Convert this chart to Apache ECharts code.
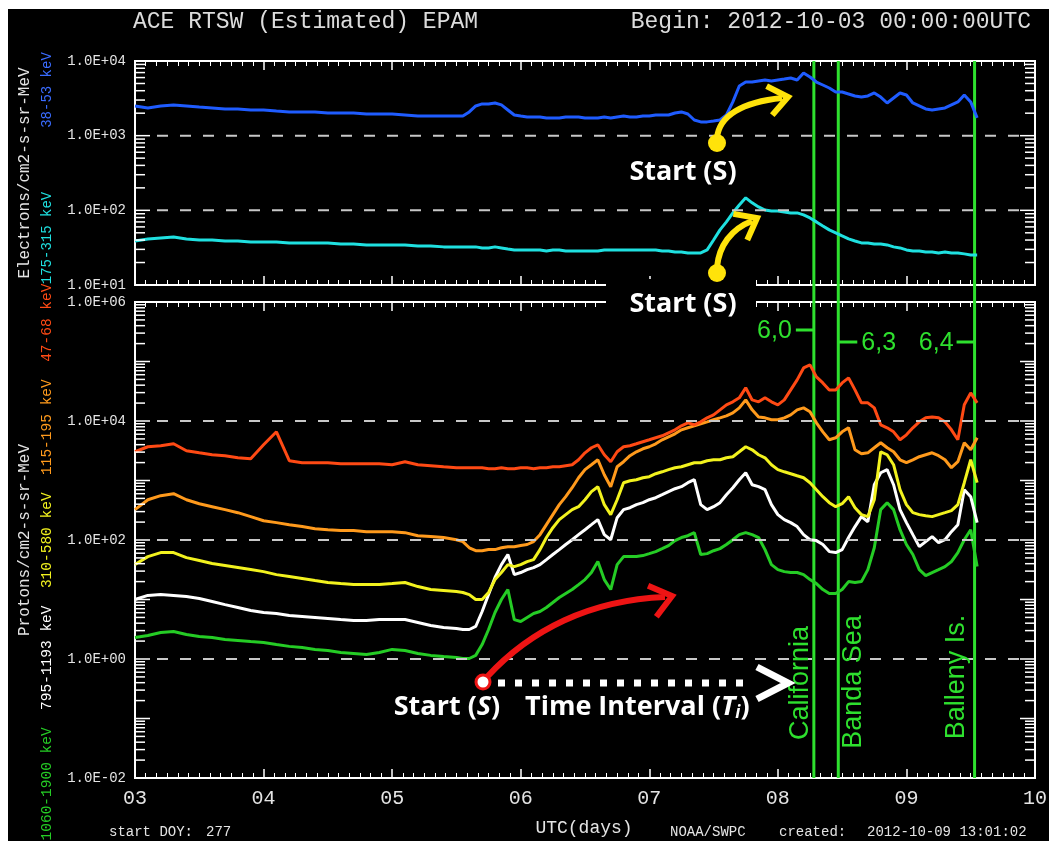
<!DOCTYPE html>
<html><head><meta charset="utf-8">
<script src="https://cdn.jsdelivr.net/npm/echarts@6/dist/echarts.min.js"></script>
<style>
html,body{margin:0;padding:0;background:#fff;width:1049px;height:841px;overflow:hidden}
#bg{position:absolute;left:8px;top:9px;width:1041px;height:832px;background:#000}
#c{position:absolute;left:0;top:0;width:1049px;height:841px}
</style></head><body><div id="bg"></div><div id="c"></div>
<script>
// ---- data (UTC day of October 2012) ----
const days = [3.0,3.1,3.2,3.3,3.4,3.5,3.6,3.7,3.8,3.9,
 4.0,4.1,4.2,4.3,4.4,4.5,4.6,4.7,4.8,4.9,
 5.0,5.1,5.2,5.3,5.4,5.5,
 5.55,5.6,5.65,5.7,5.75,5.8,5.85,5.9,5.95,
 6.0,6.05,6.1,6.15,6.2,6.25,6.3,6.35,6.4,6.45,6.5,6.55,6.6,6.65,6.7,6.75,6.8,6.85,6.9,6.95,
 7.0,7.05,7.1,7.15,7.2,7.25,7.3,7.35,7.4,7.45,7.5,7.55,7.6,7.65,7.7,7.75,7.8,7.85,7.9,7.95,
 8.0,8.05,8.1,8.15,8.2,8.25,8.3,8.35,8.4,8.45,8.5,8.55,8.6,8.65,8.7,8.75,8.8,8.85,8.9,8.95,
 9.0,9.05,9.1,9.15,9.2,9.25,9.3,9.35,9.4,9.45,9.5,9.55];

// Electrons 38-53 keV
const e38_53 = [2500,2350,2500,2580,2500,2420,2350,2280,2280,2210,
 2210,2140,2080,2080,2080,2010,2010,2010,1950,1950,
 1950,1890,1830,1830,1830,1830,
 1830,2080,2500,2660,2660,2740,2580,2210,1890,
 1830,1780,1780,1780,1730,1730,1730,1780,1780,1780,1730,1730,1730,1780,1730,1780,1830,1780,1780,1830,
 1830,1890,1890,1890,2010,2080,1950,1620,1530,1530,1570,1620,1890,2830,4630,5230,5230,5400,5570,5400,
 5570,5740,5920,5570,6910,6100,5230,4770,4350,3840,3840,3620,3400,3290,3400,3730,3290,2740,3200,3730,
 3510,2740,2500,2280,2210,2280,2350,2580,2830,3510,2830,1730];
// Electrons 175-315 keV
const e175_315 = [38.9,41.4,42.7,44.0,41.4,40.1,40.1,38.9,38.9,37.7,
 37.7,37.7,36.6,36.6,36.6,36.6,35.5,35.5,34.4,34.4,
 34.4,34.4,33.4,33.4,32.4,32.4,
 32.4,32.4,32.4,31.4,31.4,32.4,31.4,30.4,29.5,
 29.5,29.5,29.5,29.5,28.6,29.5,29.5,28.6,28.6,28.6,28.6,28.6,28.6,29.5,29.5,29.5,29.5,29.5,29.5,29.5,
 29.5,29.5,28.6,28.6,27.7,27.7,26.9,26.9,26.9,29.5,40.1,54.7,70.0,92.3,118,147,126,111,101,98.1,
 98.1,95.2,92.3,92.3,86.8,79.1,70.0,61.8,54.7,49.9,45.4,41.4,38.9,36.6,36.6,35.5,35.5,34.4,32.4,31.4,
 29.5,28.6,28.6,27.7,27.7,26.9,27.7,26.9,26.9,26.1,25.3,25.3];
// Protons 47-68 keV
const p47_68 = [3040,3690,3840,4140,3160,2920,2710,2610,2410,2320,
 3980,6580,2150,1990,1990,1990,1910,1910,1910,1910,
 1840,2070,1840,1770,1700,1640,
 1640,1640,1640,1640,1580,1580,1640,1580,1580,
 1640,1640,1580,1640,1640,1700,1700,1770,1840,2230,2920,3550,3980,2710,2070,3040,3690,3840,4140,4480,
 4830,5220,5640,6340,7110,8300,9310,8630,9680,11300,12700,15400,18700,21000,24500,36100,22600,21000,24500,21000,
 18700,22600,33300,49100,78000,87700,55100,43700,33300,33300,43700,53100,33300,20200,20200,16600,8630,7690,6580,4830,
 5860,7690,9680,11300,11700,11300,9680,7110,4830,18700,29700,20200];
// Protons 115-195 keV
const p115_195 = [324,475,556,600,475,407,363,324,288,247,
 211,196,181,168,155,149,144,144,138,138,
 138,133,118,114,110,101,
 94,74,66,66,69,69,74,77,77,
 81,84,94,123,181,267,393,535,757,1110,1520,1840,2230,1250,787,1700,2070,2610,3040,3410,
 3690,4140,4830,5430,6090,7110,7690,8300,8970,9680,10500,11300,12200,13700,16600,22600,15400,11700,11300,10500,
 10500,11300,12700,15400,16600,14300,9310,6580,4830,5220,6580,7690,3280,2810,2920,3550,4300,3550,3040,2230,
 1990,2230,2510,2710,2920,2610,2230,1640,2070,4300,3280,5220];
// Protons 310-580 keV
const p310_580 = [38.6,52.6,61.4,61.4,50.6,45.1,40.2,37.2,34.4,31.8,
 29.4,26.2,24.3,22.5,20.8,19.3,18.5,17.8,17.8,17.8,
 18.5,19.3,16.5,14.7,14.2,13.6,
 13.1,12.1,10.0,10.0,13.1,21.6,28.4,38.6,35.7,
 38.6,43.4,46.9,69,110,161,220,267,324,363,475,649,787,393,267,475,918,991,1030,1110,
 1160,1300,1400,1520,1640,1700,1840,1990,1990,2150,2230,2230,2410,2510,3040,3690,3280,2710,2410,1840,
 1520,1400,1300,1200,1110,918,700,535,424,363,407,535,349,267,247,475,3040,2710,1840,700,
 393,288,267,256,247,267,288,311,393,918,2230,918];
// Protons 795-1193 keV
const p795_1193 = [10.0,11.7,12.1,11.7,11.2,10.4,9.25,8.2,7.33,6.53,
 6.04,5.82,5.38,5.18,4.99,4.80,4.6,4.44,4.44,4.6,
 4.6,4.6,4.11,3.66,3.39,3.26,
 3.13,3.13,3.52,6.28,12.1,23.4,38.6,57,26.2,
 28.4,31.8,34.4,38.6,46.9,57,69,84,101,123,149,181,220,123,101,237,324,349,393,424,
 475,514,577,649,728,787,918,1030,393,324,363,424,577,757,1030,1350,849,787,700,393,
 267,220,196,168,123,101,97.7,84,63.8,61.4,69,110,168,247,203,849,1350,1520,849,324,
 196,123,77.4,94,114,90.4,101,138,181,700,535,196];
// Protons 1060-1900 keV
const p1060_1900 = [2.30,2.49,2.79,2.90,2.58,2.39,2.30,2.13,2.05,1.97,
 1.90,1.75,1.63,1.56,1.45,1.39,1.29,1.24,1.19,1.29,
 1.45,1.39,1.24,1.15,1.10,1.06,
 1.02,1.02,1.15,1.75,3.13,6.04,10.0,14.7,4.6,
 4.27,4.99,5.82,6.28,7.33,8.89,10.8,12.6,14.7,17.8,21.6,28.4,43.4,21.6,14.7,38.6,52.6,52.6,52.6,54.7,
 59.0,63.8,71.6,80.5,97.7,110,118,133,57,59.0,66,71.6,84,101,123,133,123,110,69,38.6,
 31.8,29.4,28.4,28.4,26.2,21.6,18.5,14.7,12.6,12.6,14.7,20.0,19.3,20.0,31.8,74,324,424,324,149,
 84,57,31.8,25.2,28.4,31.8,35.7,43.4,61.4,101,149,35.7];

const xTickLabels = ['03','04','05','06','07','08','09','10'];
const topTickLabels = ['1.0E+01','1.0E+02','1.0E+03','1.0E+04'];
const botTickLabels = ['1.0E-02','1.0E+00','1.0E+02','1.0E+04','1.0E+06'];
const eventDays = [8.28, 8.47, 9.53];
const eventNames = ['California','Banda Sea','Balleny Is.'];
const eventMags = ['6,0','6,3','6,4'];

// ---- rendering ----
const MONO = '"Liberation Mono","DejaVu Sans Mono",monospace';
const SANS = '"Liberation Sans",Arial,sans-serif';
const CAL = '"Open Sans",Lato,sans-serif';
const GREEN = '#2ee02e';
const C = {blue:'#1f5cff', cyan:'#1fe0e0', red:'#ff4a14', orange:'#ff9a1c', yellow:'#f2f21e', white:'#ffffff', green:'#25cc25'};

const chart = echarts.init(document.getElementById('c'), null, {renderer:'canvas', width:1049, height:841});

function pairs(vals){ return days.map((d,i)=>[d, vals[i]]); }
function decadeTicks(minExp, maxExp, labeled){
  const out=[];
  for(let k=minExp;k<=maxExp;k++){
    const v=Math.pow(10,k), li=labeled.indexOf(k);
    out.push([3, v, li>=0?2:1, li, (k>minExp&&k<maxExp)?1:0]);
    if(k<maxExp) for(let m=2;m<=9;m++) out.push([3, m*v, 0, -1, 0]);
  }
  return out;
}
function tickRender(labels){
  return function(params, api){
    const v=api.value(1), kind=api.value(2);
    const L=api.coord([3,v]), R=api.coord([10,v]);
    const len = kind>=1 ? 15 : 10;
    const ch=[
      {type:'line', shape:{x1:L[0],y1:L[1],x2:L[0]+len,y2:L[1]}, style:{stroke:'#fff',lineWidth:1.5}},
      {type:'line', shape:{x1:R[0]-len,y1:R[1],x2:R[0],y2:R[1]}, style:{stroke:'#fff',lineWidth:1.5}}
    ];
    if(kind===2){
      ch.push({type:'text', x:L[0]-9, y:L[1], style:{text:labels[api.value(3)], fill:'#e4e4e4', fontSize:14, fontFamily:MONO, align:'right', verticalAlign:'middle'}});
      if(api.value(4)===1) ch.push({type:'line', shape:{x1:L[0]+22,y1:L[1],x2:R[0]-16,y2:R[1]}, style:{stroke:'#c8c8c8',lineWidth:2,lineDash:[11,12]}});
    }
    return {type:'group', children:ch};
  };
}
function xAx(grid, pos, showLabel){
  return {type:'value', gridIndex:grid, position:pos, min:3, max:10, interval:1,
    axisLine:{show:false},
    axisTick:{show:true, inside:true, length:9, lineStyle:{color:'#fff', width:1.5}},
    minorTick:{show:true, splitNumber:12, length:5, lineStyle:{color:'#fff', width:1}},
    splitLine:{show:false}, minorSplitLine:{show:false},
    axisLabel:{show:showLabel, margin:11, color:'#e4e4e4', fontSize:20, fontFamily:MONO,
      formatter:(v)=>xTickLabels[Math.round(v-3)]}};
}
function yAx(grid, mn, mx){
  return {type:'log', logBase:10, gridIndex:grid, min:mn, max:mx,
    axisLine:{show:false}, axisTick:{show:false}, axisLabel:{show:false}, splitLine:{show:false}};
}
function ser(name, vals, color, gi){
  return {name, type:'line', xAxisIndex:gi*2, yAxisIndex:gi, data:pairs(vals), symbol:'none', showSymbol:false,
    lineStyle:{color, width:3}, z:3, silent:true, animation:false};
}

chart.setOption({
  backgroundColor:'transparent',
  animation:false,
  grid:[
    {left:135, top:61, width:900, height:224, show:true, borderColor:'#fff', borderWidth:2, backgroundColor:'transparent', outerBoundsMode:'none', containLabel:false},
    {left:135, top:302, width:900, height:476, show:true, borderColor:'#fff', borderWidth:2, backgroundColor:'transparent', outerBoundsMode:'none', containLabel:false}
  ],
  xAxis:[xAx(0,'bottom',false), xAx(0,'top',false), xAx(1,'bottom',true), xAx(1,'top',false)],
  yAxis:[yAx(0,10,1e4), yAx(1,1e-2,1e6)],
  series:[
    ser('38-53 keV', e38_53, C.blue, 0),
    ser('175-315 keV', e175_315, C.cyan, 0),
    ser('1060-1900 keV', p1060_1900, C.green, 1),
    ser('795-1193 keV', p795_1193, C.white, 1),
    ser('310-580 keV', p310_580, C.yellow, 1),
    ser('115-195 keV', p115_195, C.orange, 1),
    ser('47-68 keV', p47_68, C.red, 1),
    {type:'custom', xAxisIndex:0, yAxisIndex:0, data:decadeTicks(1,4,[1,2,3,4]), encode:{x:0,y:1},
      renderItem:tickRender(topTickLabels), clip:false, silent:true, z:5},
    {type:'custom', xAxisIndex:2, yAxisIndex:1, data:decadeTicks(-2,6,[-2,0,2,4,6]), encode:{x:0,y:1},
      renderItem:tickRender(botTickLabels), clip:false, silent:true, z:5}
  ]
});

// ---- overlay annotations ----
const ev = eventDays.map(d => chart.convertToPixel({xAxisIndex:2}, d));
const yTop = chart.convertToPixel({yAxisIndex:0}, 1e4);
const yBot = chart.convertToPixel({yAxisIndex:1}, 1e-2);

function head(tx, ty, angDeg, len, spread){
  const a=angDeg*Math.PI/180, s=spread*Math.PI/180;
  return [[tx-len*Math.cos(a-s), ty-len*Math.sin(a-s)], [tx,ty], [tx-len*Math.cos(a+s), ty-len*Math.sin(a+s)]];
}
function txt(x, y, text, opt){
  return {type:'text', x, y, z:70, silent:true, style:Object.assign({text, fill:'#e4e4e4', fontSize:14, fontFamily:MONO, align:'left', verticalAlign:'middle'}, opt||{})};
}
const G = [];
ev.forEach((x)=>{
  G.push({type:'line', z:1, silent:true, shape:{x1:x,y1:yTop,x2:x,y2:yBot}, style:{stroke:GREEN, lineWidth:3}});
});
// magnitudes
G.push({type:'line', z:60, shape:{x1:ev[0]-18,y1:330,x2:ev[0],y2:330}, style:{stroke:GREEN,lineWidth:3}});
G.push(txt(ev[0]-22, 331, eventMags[0], {fill:GREEN, fontSize:25, fontFamily:SANS, align:'right'}));
G.push({type:'line', z:60, shape:{x1:ev[1],y1:342,x2:ev[1]+19,y2:342}, style:{stroke:GREEN,lineWidth:3}});
G.push(txt(ev[1]+23, 343, eventMags[1], {fill:GREEN, fontSize:25, fontFamily:SANS}));
G.push({type:'line', z:60, shape:{x1:ev[2]-18,y1:342,x2:ev[2],y2:342}, style:{stroke:GREEN,lineWidth:3}});
G.push(txt(ev[2]-21, 343, eventMags[2], {fill:GREEN, fontSize:25, fontFamily:SANS, align:'right'}));
// event names (rotated)
const nameDx = [-13, 15, -18], nameY = [683, 682, 677];
eventNames.forEach((n,i)=>{
  G.push({type:'text', x:ev[i]+nameDx[i], y:nameY[i], rotation:Math.PI/2, z:60, silent:true,
    style:{text:n, fill:GREEN, fontSize:27, fontFamily:SANS, align:'center', verticalAlign:'middle'}});
});
// black cover between panels
G.push({type:'rect', z:50, silent:true, shape:{x:606,y:279,width:150,height:44}, style:{fill:'#000'}});
// yellow arrows
const Y = '#ffe30a';
G.push({type:'bezierCurve', z:62, shape:{x1:717,y1:138,cpx1:719,cpy1:116,cpx2:742,cpy2:102,x2:782,y2:98}, style:{stroke:Y,lineWidth:6,fill:null}});
G.push({type:'polyline', z:62, shape:{points:head(788,97,-11,24,38)}, style:{stroke:Y,lineWidth:6,fill:null,lineJoin:'miter'}});
G.push({type:'circle', z:63, shape:{cx:717,cy:143,r:9}, style:{fill:Y}});
G.push({type:'bezierCurve', z:62, shape:{x1:717,y1:267,cpx1:719,cpy1:246,cpx2:731,cpy2:229,x2:752,y2:221}, style:{stroke:Y,lineWidth:6,fill:null}});
G.push({type:'polyline', z:62, shape:{points:head(757,218,-28,24,38)}, style:{stroke:Y,lineWidth:6,fill:null,lineJoin:'miter'}});
G.push({type:'circle', z:63, shape:{cx:717,cy:273,r:9}, style:{fill:Y}});
// red arrow + dotted interval
const R = '#ee1414';
G.push({type:'line', z:61, shape:{x1:498,y1:683,x2:752,y2:683}, style:{stroke:'#fff',lineWidth:7,lineDash:[7,10]}});
G.push({type:'polyline', z:61, shape:{points:[[757,667],[788,683],[757,699]]}, style:{stroke:'#fff',lineWidth:7,fill:null,lineJoin:'miter'}});
G.push({type:'bezierCurve', z:62, shape:{x1:487,y1:677,cpx1:530,cpy1:630,cpx2:590,cpy2:600,x2:665,y2:597}, style:{stroke:R,lineWidth:6,fill:null}});
G.push({type:'polyline', z:62, shape:{points:head(672,596,-15,26,38)}, style:{stroke:R,lineWidth:6,fill:null,lineJoin:'miter'}});
G.push({type:'circle', z:63, shape:{cx:483,cy:682,r:7}, style:{fill:'#fff', stroke:R, lineWidth:3}});
// start texts
const SF = 27;
const startStyle = {fill:'#fff', fontSize:SF, fontWeight:'bold', fontFamily:CAL, align:'center', textShadowColor:'#000', textShadowBlur:3};
const itStyle = {fill:'#fff', fontSize:SF, fontWeight:'bold', fontStyle:'italic', fontFamily:CAL};
G.push(txt(683, 172, 'Start (S)', startStyle));
G.push(txt(683, 304, 'Start (S)', startStyle));
G.push(txt(447, 707, 'Start ({i|S})', Object.assign({}, startStyle, {rich:{i:itStyle}})));
G.push(txt(525, 707, 'Time Interval ({i|T}{s|i})', Object.assign({}, startStyle, {align:'left', rich:{
  i:itStyle,
  s:{fill:'#fff', fontSize:17, fontWeight:'bold', fontStyle:'italic', fontFamily:CAL, verticalAlign:'bottom', padding:[12,0,0,0]}}})));
// titles
G.push(txt(133, 22, 'ACE RTSW (Estimated) EPAM', {fontSize:23, fill:'#dcdcdc'}));
G.push(txt(1031, 22, 'Begin: 2012-10-03 00:00:00UTC', {fontSize:23, align:'right', fill:'#dcdcdc'}));
// bottom texts
G.push(txt(584, 828, 'UTC(days)', {fontSize:18, align:'center'}));
G.push(txt(109, 832, 'start DOY:', {fontSize:14}));
G.push(txt(206, 832, '277', {fontSize:14}));
G.push(txt(670, 832, 'NOAA/SWPC', {fontSize:14}));
G.push(txt(779, 832, 'created:', {fontSize:14}));
G.push(txt(867, 832, '2012-10-09 13:01:02', {fontSize:14}));
// rotated axis names
function rtxt(x, y, text, opt){
  return {type:'text', x, y, rotation:Math.PI/2, z:70, silent:true,
    style:Object.assign({text, fill:'#e4e4e4', fontSize:16, fontFamily:MONO, align:'center', verticalAlign:'middle'}, opt||{})};
}
G.push(rtxt(25, 173, 'Electrons/cm2-s-sr-MeV'));
G.push(rtxt(47, 90, '38-53 keV', {fill:'#3a6cff', fontSize:14}));
G.push(rtxt(47, 238, '175-315 keV', {fill:C.cyan, fontSize:14}));
G.push(rtxt(25, 540, 'Protons/cm2-s-sr-MeV'));
const FS = 14.5;
G.push(rtxt(47, 562, '{g|1060-1900 keV}  {w|795-1193 keV}  {y|310-580 keV}  {o|115-195 keV}  {r|47-68 keV}', {
  fontSize:FS, rich:{
    g:{fill:C.green, fontSize:FS, fontFamily:MONO}, w:{fill:'#fff', fontSize:FS, fontFamily:MONO},
    y:{fill:C.yellow, fontSize:FS, fontFamily:MONO}, o:{fill:C.orange, fontSize:FS, fontFamily:MONO},
    r:{fill:C.red, fontSize:FS, fontFamily:MONO}}}));

chart.setOption({graphic:{elements:G}});
</script></body></html>
